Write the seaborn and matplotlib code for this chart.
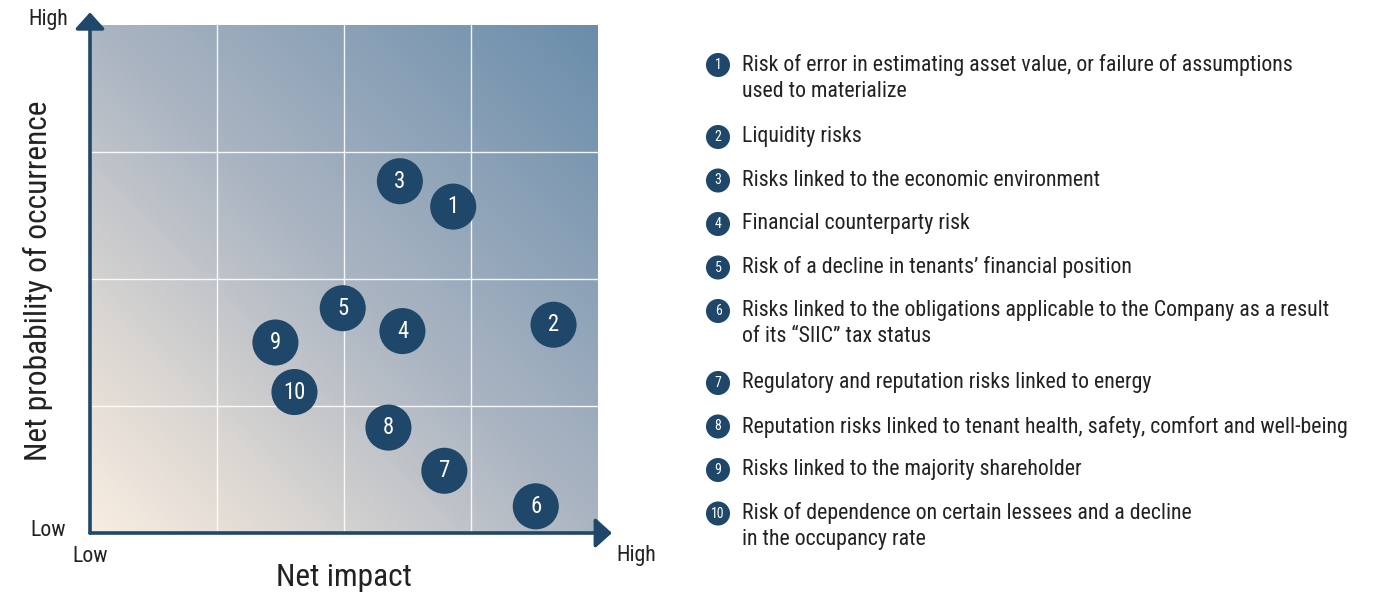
import numpy as np
import pandas as pd
import matplotlib
matplotlib.use('Agg')
import matplotlib.pyplot as plt
from matplotlib import font_manager
from matplotlib.colors import LinearSegmentedColormap
import seaborn as sns

# Данные: положение рисков на карте
risk_ids = [1, 2, 3, 4, 5, 6, 7, 8, 9, 10]
net_impact = [2.86, 3.65, 2.44, 2.46, 1.99, 3.51, 2.79, 2.35, 1.46, 1.61]
net_probability = [2.57, 1.64, 2.77, 1.59, 1.77, 0.21, 0.49, 0.83, 1.50, 1.11]
risk_labels = [
    "Risk of error in estimating asset value, or failure of assumptions\nused to materialize",
    "Liquidity risks",
    "Risks linked to the economic environment",
    "Financial counterparty risk",
    "Risk of a decline in tenants\u2019 financial position",
    "Risks linked to the obligations applicable to the Company as a result\nof its \u201cSIIC\u201d tax status",
    "Regulatory and reputation risks linked to energy",
    "Reputation risks linked to tenant health, safety, comfort and well-being",
    "Risks linked to the majority shareholder",
    "Risk of dependence on certain lessees and a decline\nin the occupancy rate",
]
axis_low, axis_high = "Low", "High"

navy = '#1f4769'
text_col = '#222222'

sns.set_style("white")
# Узкий шрифт, если есть
installed = {f.name for f in font_manager.fontManager.ttflist}
family = 'DejaVu Sans'
for cand in ['Liberation Sans Narrow', 'Roboto Condensed', 'DejaVu Sans Condensed',
             'Open Sans Condensed', 'Liberation Sans']:
    if cand in installed:
        family = cand
        break
plt.rcParams['font.family'] = [family, 'DejaVu Sans']

df = pd.DataFrame({'id': risk_ids, 'impact': net_impact, 'probability': net_probability})

fig = plt.figure(figsize=(13.86, 5.94), dpi=100)
ax = fig.add_axes([90 / 1386, 61 / 594, 508 / 1386, 508 / 594])

# Подбор размера шрифта по ширине самой длинной строки (~608 px)
renderer = fig.canvas.get_renderer()
probe = fig.text(0, 0, risk_labels[7], fontsize=15)
w = probe.get_window_extent(renderer).width
probe.remove()
fs = min(16.5, 15 * 608 / w)
scale = fs / 15

# Фон с градиентом
g = np.linspace(0, 1, 300)
gx, gy = np.meshgrid(g, g)
cmap = LinearSegmentedColormap.from_list(
    'bg', [(0, '#f8ede1'), (0.2, '#ddd8d3'), (0.5, '#abb5c2'), (1, '#6a8dab')])
ax.imshow((gx + gy) / 2, origin='lower', extent=[0, 4, 0, 4], aspect='auto',
          cmap=cmap, zorder=0)

for v in [1, 2, 3]:
    ax.axvline(v, color='white', lw=1, alpha=0.9, zorder=1)
    ax.axhline(v, color='white', lw=1, alpha=0.9, zorder=1)

sns.scatterplot(data=df, x='impact', y='probability', s=1100, color=navy,
                edgecolor='none', ax=ax, zorder=3, legend=False)
for _, r in df.iterrows():
    ax.text(r['impact'], r['probability'], str(int(r['id'])), color='white',
            fontsize=15.5 * scale, ha='center', va='center', zorder=4)

ax.set_xlim(0, 4)
ax.set_ylim(0, 4)
ax.set_xticks([])
ax.set_yticks([])
ax.set_xlabel('')
ax.set_ylabel('')
for s in ax.spines.values():
    s.set_visible(False)

arrow = dict(arrowstyle='-|>,head_length=0.5,head_width=0.45', lw=2.6,
             color=navy, mutation_scale=20, shrinkA=0, shrinkB=0)
ax.annotate('', xy=(4.11, 0), xytext=(0, 0), arrowprops=arrow,
            annotation_clip=False, zorder=5)
ax.annotate('', xy=(0, 4.10), xytext=(0, 0), arrowprops=arrow,
            annotation_clip=False, zorder=5)

# Подписи и легенда в пиксельных координатах
ov = fig.add_axes([0, 0, 1, 1], facecolor='none')

n_lines = [lab.count('\n') + 1 for lab in risk_labels]
ys = [65.0]
for n in n_lines[:-1]:
    ys.append(ys[-1] + 43.5 + 28.5 * (n - 1))
leg = pd.DataFrame({'x': [718] * len(ys), 'y': ys})
sns.scatterplot(data=leg, x='x', y='y', s=300, color=navy, edgecolor='none',
                ax=ov, legend=False)
ov.set_xlim(0, 1386)
ov.set_ylim(594, 0)
ov.axis('off')

ov.text(68, 20, axis_high, fontsize=15 * scale, color=text_col, ha='right', va='center')
ov.text(66, 531, axis_low, fontsize=15 * scale, color=text_col, ha='right', va='center')
ov.text(90, 556, axis_low, fontsize=15 * scale, color=text_col, ha='center', va='center')
ov.text(636, 556, axis_high, fontsize=15 * scale, color=text_col, ha='center', va='center')
ov.text(344, 578, 'Net impact', fontsize=21.6 * scale, color=text_col, ha='center', va='center')
ov.text(38, 281, 'Net probability of occurrence', fontsize=21.6 * scale, color=text_col,
        ha='center', va='center', rotation=90)

for rid, y, lab in zip(risk_ids, ys, risk_labels):
    ov.text(718, y, str(rid), color='white', fontsize=9.5 * scale, ha='center', va='center')
    ov.text(742, y - 11, lab, color=text_col, fontsize=fs, ha='left', va='top',
            linespacing=1.45 / scale if scale < 1 else 1.3)

fig.savefig('out.png', dpi=100)
